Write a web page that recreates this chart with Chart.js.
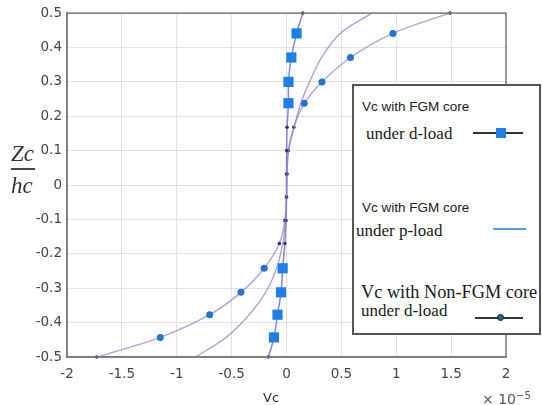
<!DOCTYPE html>
<html>
<head>
<meta charset="utf-8">
<script src="https://cdn.jsdelivr.net/npm/chart.js@4/dist/chart.umd.min.js"></script>
<style>
  html, body { margin:0; padding:0; background:#fff; }
  #wrap { position:relative; width:542px; height:405px; overflow:hidden; }
  canvas { position:absolute; left:0; top:0; }
  .ov { position:absolute; white-space:nowrap; line-height:1; color:#1a1a1a; }
  .sans { font-family:"Liberation Sans", Arial, sans-serif; font-size:13.5px; color:#222; }
  .serif { font-family:"Liberation Serif", "Times New Roman", serif; font-size:17px; }
</style>
</head>
<body>
<div id="wrap">
  <canvas id="c" width="542" height="405"></canvas>

  <!-- y-axis title Zc / hc -->
  <div class="ov" style="left:11px;top:141px;font:italic 23px 'Liberation Serif',serif;color:#333;">Zc</div>
  <div style="position:absolute;left:11px;top:168px;width:24px;height:2px;background:#444;"></div>
  <div class="ov" style="left:11px;top:173px;font:italic 23px 'Liberation Serif',serif;color:#333;">hc</div>

  <!-- x-axis title and multiplier -->
  <div class="ov" style="left:263px;top:390px;font:13px 'DejaVu Sans',sans-serif;color:#333;">Vc</div>
  <div class="ov" style="left:482px;top:390px;font:14px 'DejaVu Sans',sans-serif;color:#555;">× 10<sup style="font-size:10px;vertical-align:5px;">−5</sup></div>

  <!-- legend -->
  <div style="position:absolute;left:352px;top:84px;width:189px;height:251px;border:2px solid #555;background:#fff;box-sizing:border-box;"></div>
  <div class="ov sans" style="left:362px;top:100px;">Vc with FGM core</div>
  <div class="ov serif" style="left:366px;top:125px;">under d-load</div>
  <div style="position:absolute;left:473px;top:132px;width:50px;height:2px;background:#333;"></div>
  <div style="position:absolute;left:496px;top:128px;width:10px;height:10px;background:#1f7fe8;"></div>

  <div class="ov sans" style="left:362px;top:201px;">Vc with FGM core</div>
  <div class="ov serif" style="left:356px;top:222px;">under p-load</div>
  <div style="position:absolute;left:493px;top:228px;width:33px;height:1.5px;background:#4fa3e6;"></div>

  <div class="ov serif" style="left:361px;top:283px;font-size:18.3px;">Vc with Non-FGM core</div>
  <div class="ov serif" style="left:361px;top:302px;">under d-load</div>
  <div style="position:absolute;left:475px;top:317px;width:48px;height:2px;background:#333;"></div>
  <div style="position:absolute;left:497px;top:314px;width:7px;height:7px;border-radius:50%;background:#1d6a86;border:1px solid #223;box-sizing:border-box;"></div>
</div>

<script>
// ---- data (Vc in units of 1e-5, Zc/hc dimensionless) ----
const zc = [-0.5, -0.443, -0.377, -0.312, -0.242, -0.17, -0.103, -0.035, 0.032, 0.1, 0.168, 0.238, 0.3, 0.371, 0.441, 0.5];
const vcFgmDLoad    = [-0.165, -0.114, -0.082, -0.05, -0.035, -0.015, -0.005, 0.0, 0.0, 0.002, 0.005, 0.018, 0.018, 0.044, 0.092, 0.149];
const vcFgmPLoad    = [-0.83, -0.55, -0.34, -0.19, -0.09, -0.035, -0.01, 0.0, 0.005, 0.02, 0.07, 0.13, 0.21, 0.32, 0.49, 0.78];
const vcNonFgmDLoad = [-1.73, -1.15, -0.70, -0.415, -0.203, -0.065, -0.015, 0.0, 0.005, 0.015, 0.067, 0.162, 0.323, 0.583, 0.97, 1.49];

const xTickValues = [-2, -1.5, -1, -0.5, 0, 0.5, 1, 1.5, 2];
const xTickLabels = ['-2', '-1.5', '-1', '-0.5', '0', '0.5', '1', '1.5', '2'];
const yTickValues = [-0.5, -0.4, -0.3, -0.2, -0.1, 0, 0.1, 0.2, 0.3, 0.4, 0.5];
const yTickLabels = ['-0.5', '-0.4', '-0.3', '-0.2', '-0.1', '0', '0.1', '0.2', '0.3', '0.4', '0.5'];

const pairs = (xs) => xs.map((v, i) => ({ x: v, y: zc[i] }));

// big markers only away from the core centre; tiny dark dots elsewhere
const isBig = (ctx) => {
  const r = ctx.raw; if (!r) return false;
  return Math.abs(r.y) > 0.2 && Math.abs(r.y) < 0.49;
};

const frame = {
  id: 'frame',
  afterDraw(chart) {
    const a = chart.chartArea, c = chart.ctx;
    c.save();
    c.strokeStyle = '#7a7a7a';
    c.lineWidth = 1.5;
    c.strokeRect(a.left, a.top, a.right - a.left, a.bottom - a.top);
    c.restore();
  }
};

const lineCol = 'rgba(135,130,200,0.7)';

new Chart(document.getElementById('c'), {
  type: 'scatter',
  data: {
    datasets: [
      {
        label: 'Vc with FGM core under p-load',
        data: pairs(vcFgmPLoad),
        showLine: true,
        borderColor: lineCol,
        borderWidth: 1.4,
        tension: 0.35,
        pointRadius: 0,
        clip: false
      },
      {
        label: 'Vc with Non-FGM core under d-load',
        data: pairs(vcNonFgmDLoad),
        showLine: true,
        borderColor: lineCol,
        borderWidth: 1.4,
        tension: 0.35,
        pointStyle: 'circle',
        pointRadius: (ctx) => isBig(ctx) ? 3.5 : 1.8,
        pointBackgroundColor: (ctx) => isBig(ctx) ? '#2673d6' : '#34347a',
        pointBorderWidth: 0,
        clip: false
      },
      {
        label: 'Vc with FGM core under d-load',
        data: pairs(vcFgmDLoad),
        showLine: true,
        borderColor: 'rgba(110,105,195,0.8)',
        borderWidth: 1.5,
        tension: 0.35,
        pointStyle: (ctx) => isBig(ctx) ? 'rect' : 'circle',
        pointRadius: (ctx) => isBig(ctx) ? 7.2 : 1.8,
        pointBackgroundColor: (ctx) => isBig(ctx) ? '#1f7fe8' : '#34347a',
        pointBorderWidth: 0,
        clip: false
      }
    ]
  },
  options: {
    responsive: false,
    animation: false,
    layout: { padding: { top: 12, right: 36, left: 0, bottom: 0 } },
    plugins: { legend: { display: false }, tooltip: { enabled: false } },
    scales: {
      x: {
        type: 'linear',
        min: -2, max: 2,
        afterFit: (s) => { s.height = 48; },
        afterBuildTicks: (s) => { s.ticks = xTickValues.map(v => ({ value: v })); },
        ticks: {
          padding: 9,
          color: '#444',
          font: { family: 'DejaVu Sans', size: 13.5 },
          callback: (v, i) => xTickLabels[i]
        },
        grid: { color: '#e2e2e2', lineWidth: 1, drawTicks: false },
        border: { color: '#7a7a7a', width: 1.5 }
      },
      y: {
        type: 'linear',
        min: -0.5, max: 0.5,
        afterFit: (s) => { s.width = 67; },
        afterBuildTicks: (s) => { s.ticks = yTickValues.map(v => ({ value: v })); },
        ticks: {
          padding: 5,
          color: '#444',
          font: { family: 'DejaVu Sans', size: 13.5 },
          callback: (v, i) => yTickLabels[i]
        },
        grid: { color: '#e2e2e2', lineWidth: 1, drawTicks: false },
        border: { color: '#7a7a7a', width: 1.5 }
      }
    }
  },
  plugins: [frame]
});
</script>
</body>
</html>
